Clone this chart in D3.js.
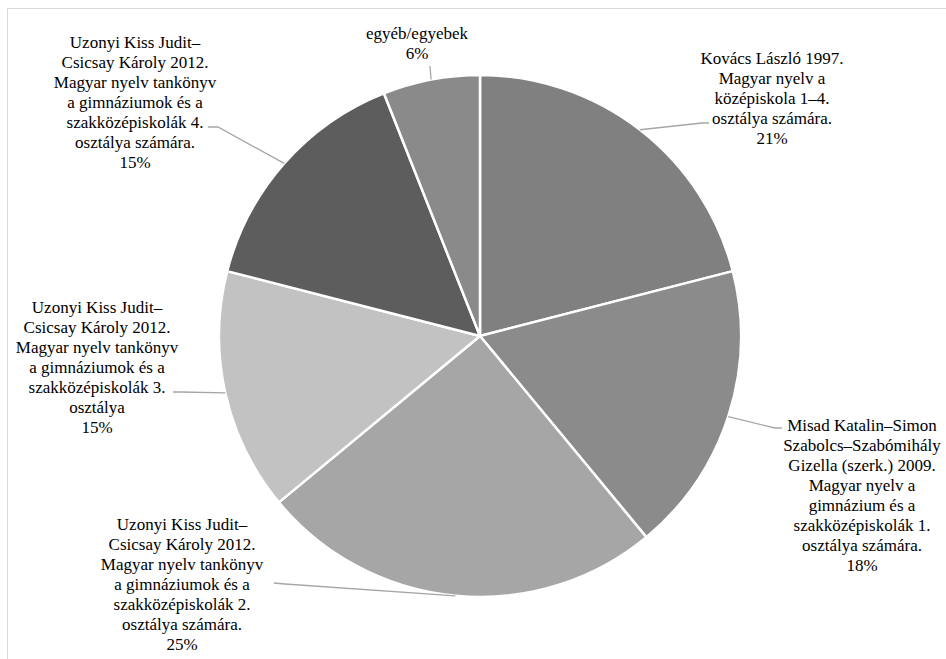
<!DOCTYPE html>
<html lang="hu">
<head>
  <meta charset="UTF-8">
  <title>Tankönyvek megoszlása</title>
  <script src="https://d3js.org/d3.v7.min.js"></script>
  <style>
    body { margin: 0; background: #fff; }
    .leader {
      fill: none;
      stroke: #a6a6a6;
      stroke-width: 1.3;
    }
  </style>
</head>
<body>
  <svg width="946" height="659"></svg>

  <script>
    // categories, clockwise from 12 o'clock (\n = line break in the label)
    const categories = [
      "Kovács László 1997.\nMagyar nyelv a\nközépiskola 1–4.\nosztálya számára.",
      "Misad Katalin–Simon\nSzabolcs–Szabómihály\nGizella (szerk.) 2009.\nMagyar nyelv a\ngimnázium és a\nszakközépiskolák 1.\nosztálya számára.",
      "Uzonyi Kiss Judit–\nCsicsay Károly 2012.\nMagyar nyelv tankönyv\na gimnáziumok és a\nszakközépiskolák 2.\nosztálya számára.",
      "Uzonyi Kiss Judit–\nCsicsay Károly 2012.\nMagyar nyelv tankönyv\na gimnáziumok és a\nszakközépiskolák 3.\nosztálya",
      "Uzonyi Kiss Judit–\nCsicsay Károly 2012.\nMagyar nyelv tankönyv\na gimnáziumok és a\nszakközépiskolák 4.\nosztálya számára.",
      "egyéb/egyebek"
    ];
    const values = [21, 18, 25, 15, 15, 6];
    const colors = ["#808080", "#8b8b8b", "#a6a6a6", "#c2c2c2", "#5d5d5d", "#8a8a8a"];

    // label layout: text centre x, first line y, leader elbow and end point
    const labelPos = [
      { x: 772, y: 58,  elbow: [702, 123], end: [709, 123] },
      { x: 862, y: 425, elbow: [775, 428], end: [782, 428] },
      { x: 182, y: 524, elbow: [285, 584], end: [274, 583] },
      { x: 97,  y: 307, elbow: [181, 392], end: [173, 392] },
      { x: 135, y: 42,  elbow: [218, 127], end: [208, 127] },
      { x: 417, y: 33,  elbow: [430, 66],  end: [430, 66] }
    ];

    const svg = d3.select("svg");
    const cx = 480, cy = 336, radius = 261;
    const lineH = 20;
    const serif = "'Times New Roman', 'Liberation Serif', Times, 'DejaVu Serif', serif";

    // chart frame (only top and left edges show inside the picture)
    svg.append("rect")
       .attr("x", 7.5).attr("y", 8.5)
       .attr("width", 1000).attr("height", 1000)
       .attr("fill", "none")
       .attr("stroke", "#d9d9d9");

    const data = values.map((v, i) => ({ name: categories[i], value: v, i: i }));
    const total = d3.sum(values);

    const pie = d3.pie().value(d => d.value).sort(null);
    const arc = d3.arc().innerRadius(0).outerRadius(radius);
    const arcs = pie(data);

    const g = svg.append("g").attr("transform", `translate(${cx},${cy})`);

    g.selectAll("path.slice")
     .data(arcs)
     .enter().append("path")
     .attr("class", "slice")
     .attr("d", arc)
     .attr("fill", d => colors[d.data.i])
     .attr("stroke", "#fff")
     .attr("stroke-width", 2.5)
     .attr("stroke-linejoin", "round");

    // leader lines go from the middle of each slice's outer edge
    svg.selectAll("polyline.leader")
       .data(arcs)
       .enter().append("polyline")
       .attr("class", "leader")
       .attr("points", d => {
         const a = (d.startAngle + d.endAngle) / 2;
         const p = [cx + radius * Math.sin(a), cy - radius * Math.cos(a)];
         const lp = labelPos[d.data.i];
         return [p, lp.elbow, lp.end].map(q => q.join(",")).join(" ");
       });

    // labels
    const labels = svg.selectAll("text.label")
       .data(arcs)
       .enter().append("text")
       .attr("class", "label")
       .attr("text-anchor", "middle")
       .attr("font-family", serif)
       .style("font-family", serif)
       .attr("font-size", 17)
       .attr("fill", "#000");

    labels.each(function(d) {
      const lp = labelPos[d.data.i];
      const lines = d.data.name.split("\n");
      lines.push(Math.round(d.data.value / total * 100) + "%");
      d3.select(this).selectAll("tspan")
        .data(lines)
        .enter().append("tspan")
        .attr("x", lp.x)
        .attr("y", (t, k) => lp.y + k * lineH)
        .attr("dy", "0.35em")
        .text(t => t);
    });
  </script>
</body>
</html>
